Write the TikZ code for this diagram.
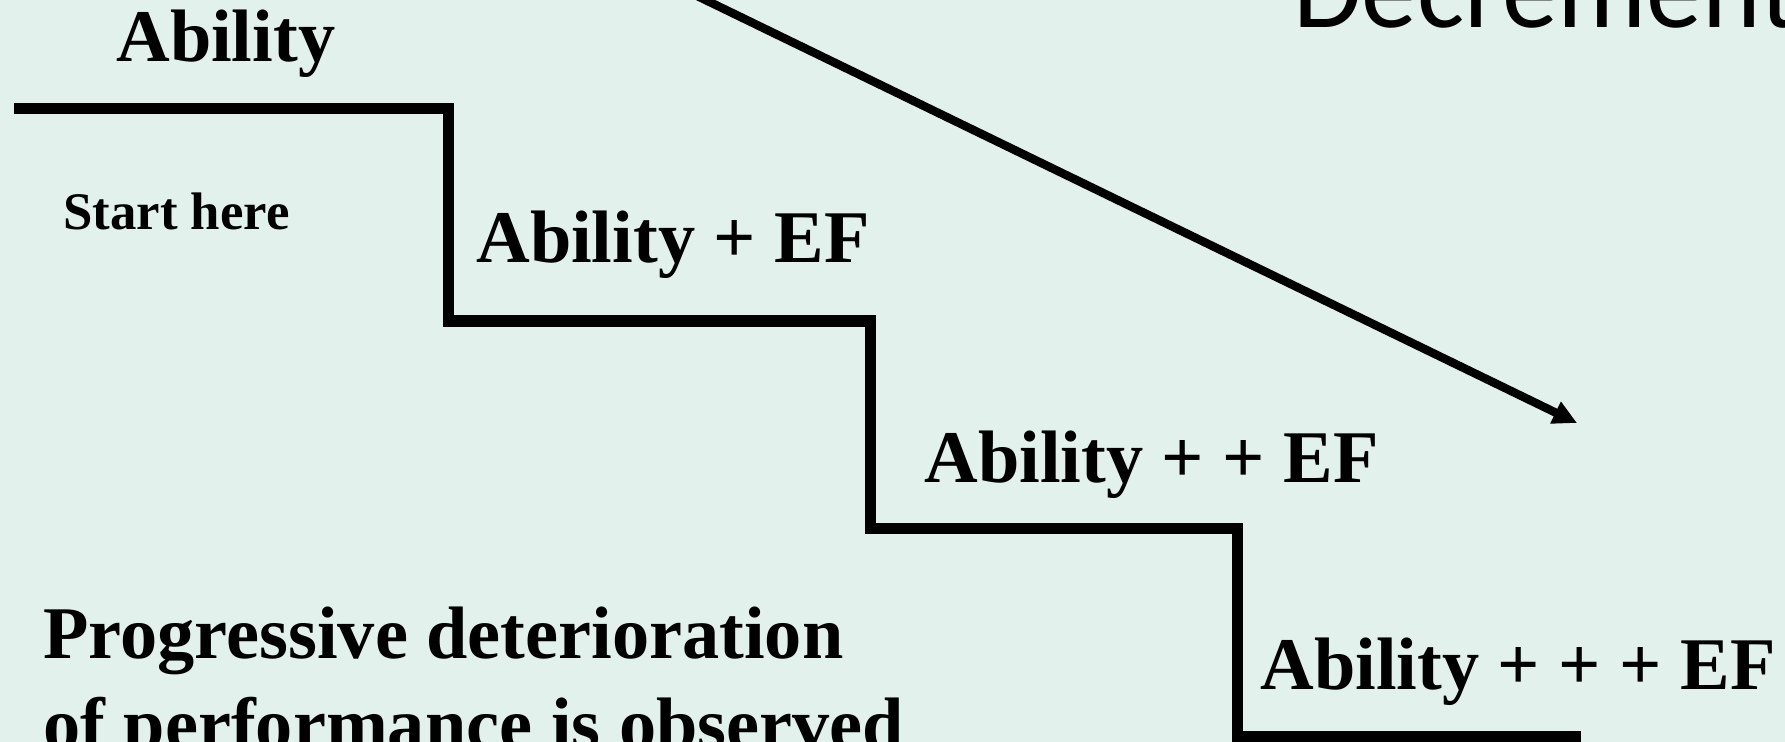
\documentclass[tikz,border=0pt]{standalone}
\usepackage{fontspec}
\setmainfont{Liberation Serif}
\newfontfamily\decfont{Carlito}
\usepackage{tikz}
\usetikzlibrary{arrows.meta}
\definecolor{mintbg}{RGB}{226,241,236}
\tikzset{
  stairline/.style={line width=6.5pt,black,line join=miter},
  trendarrow/.style={-{Triangle[length=13.6pt,width=13pt]},line width=4.8pt,black},
  steplabel/.style={anchor=base west,inner sep=0pt,
                    font=\bfseries\fontsize{42.3}{51.6}\selectfont},
  smalllabel/.style={anchor=base west,inner sep=0pt,
                     font=\bfseries\fontsize{30.05}{36}\selectfont}}

\begin{document}
\begin{tikzpicture}[x=0.02cm,y=-0.02cm]
\useasboundingbox (0,0) rectangle (1785,742);
\clip (0,0) rectangle (1785,742);
\fill[mintbg] (0,0) rectangle (1785,742);

\draw[stairline] (14,108.5) -- (448.4,108.5) -- (448.4,321) -- (870.5,321)
  -- (870.5,528.5) -- (1237.5,528.5) -- (1237.5,737) -- (1581,737);

\node[steplabel]  (abil0) at (116,62)  {Ability};
\node[smalllabel] (start) at (63,230)  {Start here};
\node[steplabel]  (abil1) at (476,263) {Ability + EF};
\node[steplabel]  (abil2) at (924,483) {Ability + + EF};
\node[steplabel]  (abil3) at (1260,689) {Ability + + + EF};
\node[steplabel,align=left] (progress) at (43,749)
  {Progressive deterioration\\ of performance is observed};
\node[anchor=base west,inner sep=0pt,
      font=\decfont\fontsize{63.5}{75}\selectfont] (decr) at (1293,28) {Decrement};

\coordinate (trendfrom) at (619,-42);
\coordinate (trendto)   at (1577,423);
\draw[trendarrow] (trendfrom) -- (trendto);
\end{tikzpicture}
\end{document}
